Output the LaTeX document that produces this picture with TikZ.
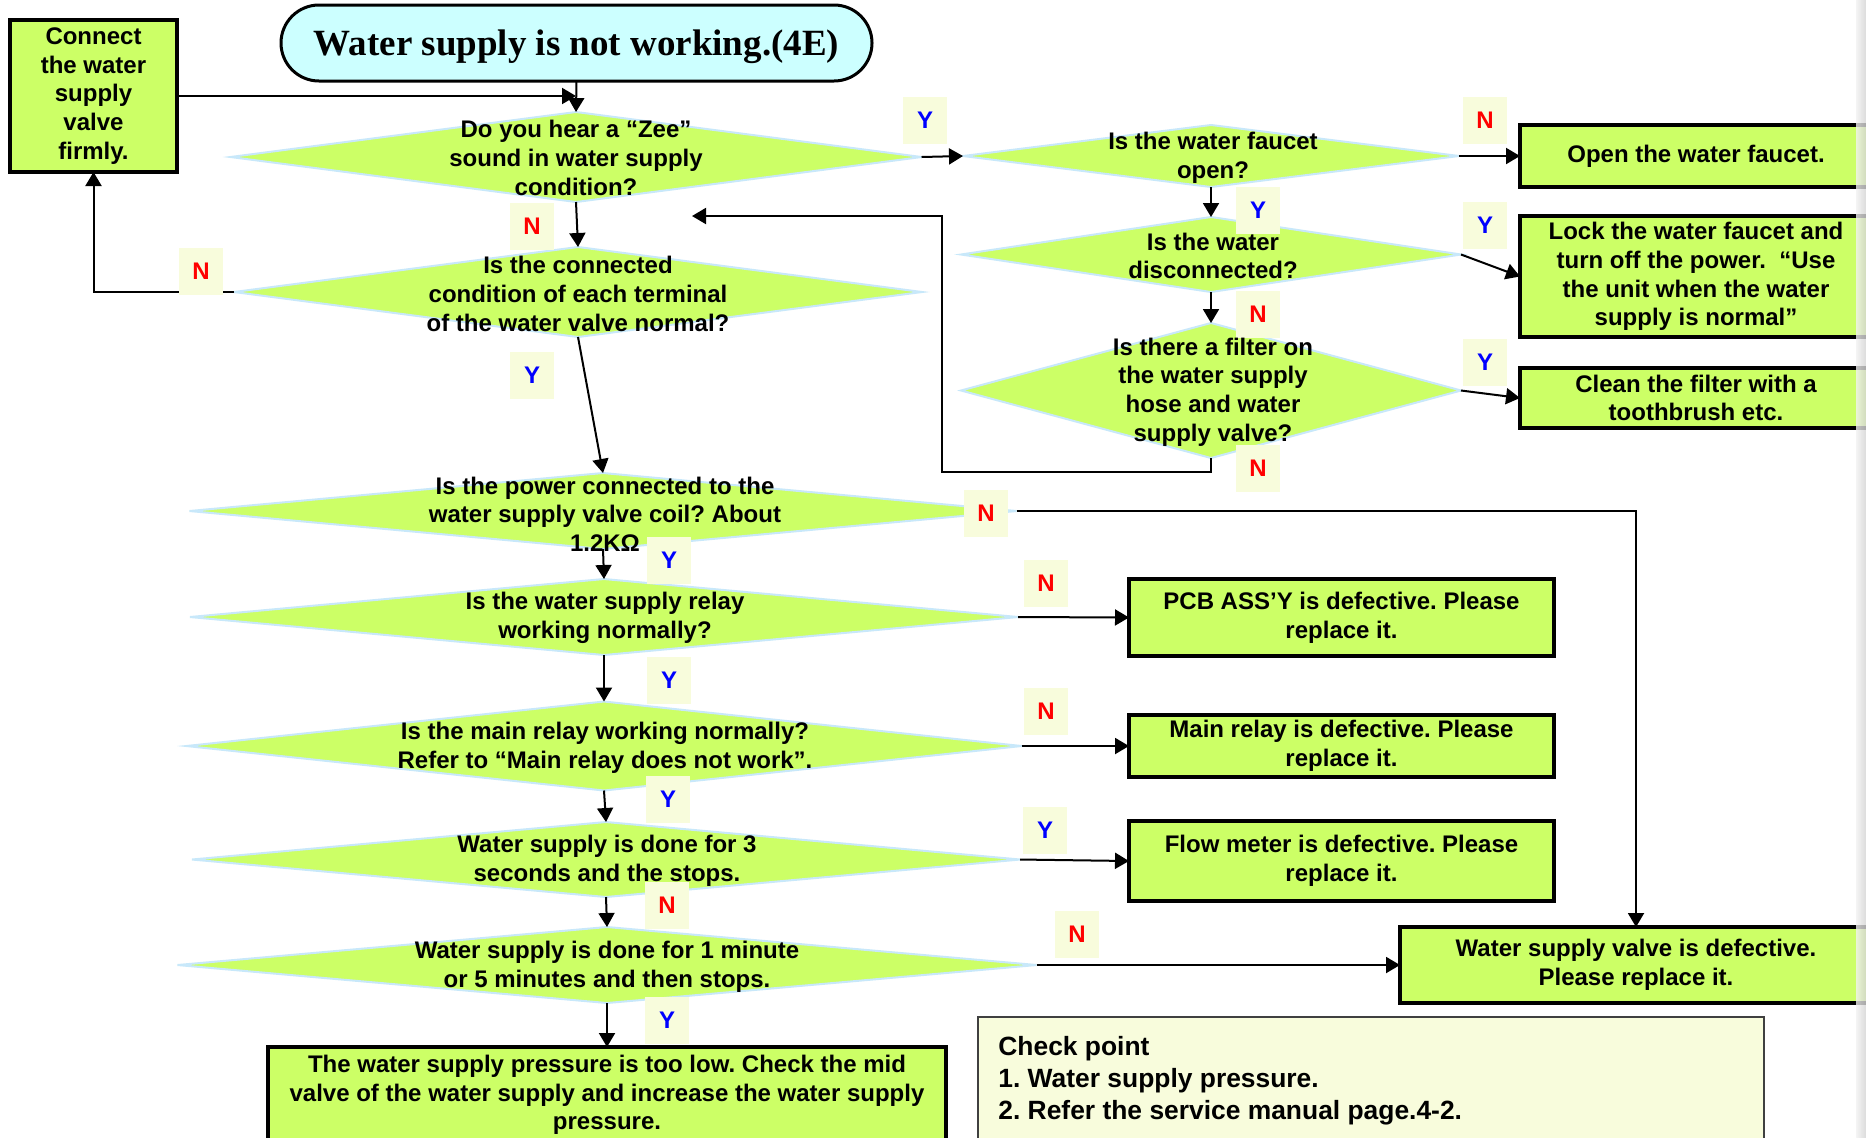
\documentclass[tikz,border=0pt]{standalone}
\usepackage{fontspec}
\setmainfont{Liberation Sans}
\newfontfamily\titlefont{Liberation Serif}
\usetikzlibrary{arrows.meta,shapes.geometric}
\definecolor{lime}{HTML}{CCFF66}
\definecolor{dline}{HTML}{C8E8FA}
\definecolor{cream}{HTML}{F8FCDC}
\definecolor{titlefill}{HTML}{CCFFFF}
\frenchspacing
\begin{document}
\begin{tikzpicture}[x=0.5pt,y=-0.5pt,
  dia/.style={diamond, draw=dline, line width=1pt, fill=lime, inner sep=0pt, outer sep=0pt},
  box/.style={rectangle, draw=black, line width=1.6pt, fill=lime, inner sep=0pt, outer sep=0pt,
    font=\bfseries\fontsize{12}{14.3}\selectfont, align=center},
  txt/.style={font=\bfseries\fontsize{12}{14.3}\selectfont, align=center, inner sep=0pt},
  lab/.style={fill=cream, minimum width=22pt, minimum height=23.5pt, inner sep=0pt,
    font=\bfseries\fontsize{12}{14}\selectfont},
  ylab/.style={lab, text=blue},
  nlab/.style={lab, text=red},
  ln/.style={line width=1pt},
  arr/.style={line width=1pt, -{Triangle[length=7pt,width=8pt]}}
]
\useasboundingbox (0,0) rectangle (1866,1137);
\fill[white] (0,0) rectangle (1866,1137);

% title and boxes
\node[box, fill=titlefill, line width=1.5pt, rounded corners=19pt, minimum width=295.5pt, minimum height=38pt] (title) at (576.5,43) {};
\node[txt, font=\titlefont\bfseries\fontsize{18.5}{20}\selectfont] (ttext) at (576.5,46.5) {Water supply is not working.(4E)};
\node[box, minimum width=83.5pt, minimum height=76pt] (lbox) at (93.5,96) {Connect\\the water\\supply\\valve\\firmly.};
\node[box, minimum width=176pt, minimum height=31pt] (open) at (1696,156) {Open the water faucet.};
\node[box, minimum width=176pt, minimum height=60.5pt] (lock) at (1696,276.5) {Lock the water faucet and\\turn off the power.~ “Use\\the unit when the water\\supply is normal”};
\node[box, minimum width=176pt, minimum height=30pt] (clean) at (1696,398) {Clean the filter with a\\toothbrush etc.};
\node[box, minimum width=212.5pt, minimum height=38.5pt] (pcb) at (1341.5,617.5) {PCB ASS’Y is defective. Please\\replace it.};
\node[box, minimum width=212.5pt, minimum height=31pt] (mainr) at (1341.5,746) {Main relay is defective. Please\\replace it.};
\node[box, minimum width=212.5pt, minimum height=40pt] (flow) at (1341.5,861) {Flow meter is defective. Please\\replace it.};
\node[box, minimum width=236pt, minimum height=38pt] (vbox) at (1636,965) {Water supply valve is defective.\\Please replace it.};
\node[box, minimum width=339pt, minimum height=56.5pt] (bbox) at (607,1103.5) {};
\node[txt] (btext) at (607,1095) {The water supply pressure is too low. Check the mid\\valve of the water supply and increase the water supply\\pressure.};
\node[box, fill=cream, draw=black!75, line width=1.3pt, minimum width=393pt, minimum height=71.5pt] (check) at (1371,1088.5) {};
\node[txt, align=left, anchor=west, font=\bfseries\fontsize{13.2}{16}\selectfont] (ctext) at (998,1081) {Check point\\1. Water supply pressure.\\2. Refer the service manual page.4-2.};

% decisions
\node[dia, minimum width=345.5pt, minimum height=45pt] (d1) at (576,157) {};
\node[dia, minimum width=344pt, minimum height=45pt] (d2) at (578,292) {};
\node[dia, minimum width=413.5pt, minimum height=38pt] (d3) at (603,511) {};
\node[dia, minimum width=414pt, minimum height=38pt] (d7) at (604,617) {};
\node[dia, minimum width=417.5pt, minimum height=44.5pt] (d8) at (604,746) {};
\node[dia, minimum width=414pt, minimum height=37.5pt] (d9) at (606,859.5) {};
\node[dia, minimum width=429.5pt, minimum height=38pt] (d10) at (607,965) {};
\node[dia, minimum width=248pt, minimum height=31pt] (d4) at (1211,156) {};
\node[dia, minimum width=250pt, minimum height=37.5pt] (d5) at (1211,254.5) {};
\node[dia, minimum width=250pt, minimum height=67.5pt] (d6) at (1211,390.5) {};

% coordinates for loop
\coordinate (lp1) at (942,472);
\coordinate (lp2) at (942,216);
\coordinate (lpend) at (692,216);

% connectors
\draw[arr] (title.south) -- (d1.north);
\draw[arr] (lbox.east) -- (lbox.east -| d1.north);
\draw[arr] (d1.south) -- (d2.north);
\draw[arr] (d2.west) -| (lbox.south);
\draw[arr] (d2.south) -- (d3.north);
\draw[arr] (d1.east) -- (d4.west);
\draw[arr] (d4.east) -- (open.west);
\draw[arr] (d4.south) -- (d5.north);
\draw[arr] (d5.east) -- (lock.west);
\draw[arr] (d5.south) -- (d6.north);
\draw[arr] (d6.east) -- (clean.west);
\draw[arr] (d6.south) |- (lp1) -- (lp2) -- (lpend);
\draw[arr] (d3.south) -- (d7.north);
\draw[arr] (d3.east) -| (vbox.north);
\draw[arr] (d7.east) -- (pcb.west);
\draw[arr] (d7.south) -- (d8.north);
\draw[arr] (d8.east) -- (mainr.west);
\draw[arr] (d8.south) -- (d9.north);
\draw[arr] (d9.east) -- (flow.west);
\draw[arr] (d9.south) -- (d10.north);
\draw[arr] (d10.east) -- (vbox.west);
\draw[arr] (d10.south) -- (bbox.north);

% labels
\node[nlab] (l1) at (201,271) {N};
\node[nlab] (l2) at (532,226) {N};
\node[ylab] (l3) at (532,375) {Y};
\node[ylab] (l4) at (925,120) {Y};
\node[nlab] (l5) at (1485,120) {N};
\node[ylab] (l6) at (1258,210) {Y};
\node[ylab] (l7) at (1485,225) {Y};
\node[nlab] (l8) at (1258,314) {N};
\node[ylab] (l9) at (1485,362) {Y};
\node[nlab] (l10) at (1258,468) {N};
\node[nlab] (l11) at (986,513) {N};
\node[ylab] (l12) at (669,560) {Y};
\node[nlab] (l13) at (1046,583) {N};
\node[ylab] (l14) at (669,680) {Y};
\node[nlab] (l15) at (1046,711) {N};
\node[ylab] (l16) at (668,799) {Y};
\node[ylab] (l17) at (1045,830) {Y};
\node[nlab] (l18) at (667,905) {N};
\node[nlab] (l19) at (1077,934) {N};
\node[ylab] (l20) at (667,1020) {Y};

% decision texts
\node[txt] (t1) at (576,158) {Do you hear a “Zee”\\sound in water supply\\condition?};
\node[txt] (t2) at (578,294) {Is the connected\\condition of each terminal\\of the water valve normal?};
\node[txt] (t3) at (605,514) {Is the power connected to the\\water supply valve coil? About\\1.2KΩ};
\node[txt] (t4) at (1213,158) {Is the water faucet\\open?};
\node[txt] (t5) at (1213,256) {Is the water\\disconnected?};
\node[txt] (t6) at (1213,392) {Is there a filter on\\the water supply\\hose and water\\supply valve?};
\node[txt] (t7) at (605,618) {Is the water supply relay\\working normally?};
\node[txt] (t8) at (605,748) {Is the main relay working normally?\\Refer to “Main relay does not work”.};
\node[txt] (t9) at (607,861) {Water supply is done for 3\\seconds and the stops.};
\node[txt] (t10) at (607,967) {Water supply is done for 1 minute\\or 5 minutes and then stops.};

% right edge shadow
\shade[left color=gray!10, right color=gray!35, opacity=0.8] (1856,0) rectangle (1866,1137);
\end{tikzpicture}
\end{document}
